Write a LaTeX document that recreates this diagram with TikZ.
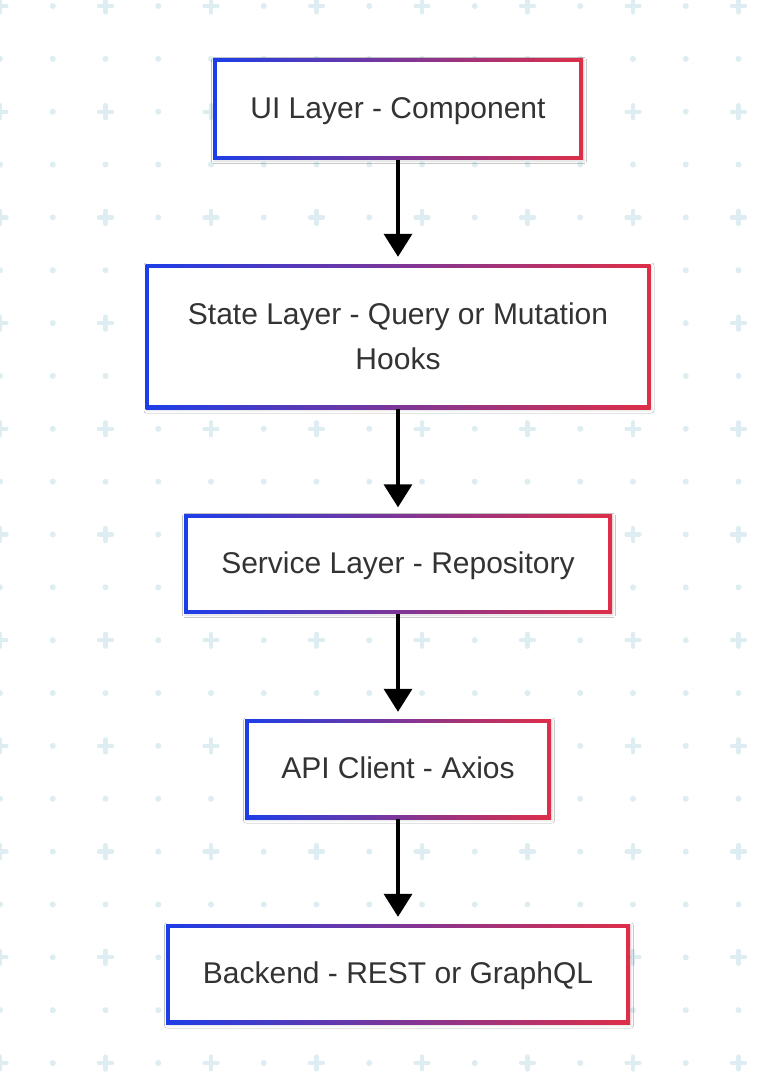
\documentclass[tikz,border=0pt]{standalone}
\usepackage{fontspec}
\setmainfont{Liberation Sans}
\usetikzlibrary{arrows.meta,shadows.blur}
\definecolor{bL}{RGB}{28,62,232}
\definecolor{bR}{RGB}{222,46,72}
\definecolor{pat}{RGB}{221,237,241}
\definecolor{txt}{RGB}{51,51,51}
\begin{document}
\begin{tikzpicture}[x=1pt,y=-1pt,
  box/.style={rectangle, inner sep=0pt, left color=bL, right color=bR, text=txt,
    font=\fontsize{30}{45}\selectfont, align=center,
    blur shadow={shadow blur steps=6, shadow xshift=1pt, shadow yshift=-1.5pt, shadow opacity=14, shadow blur radius=2.5pt},
    path picture={\fill[white] ([shift={(3.8pt,-3.8pt)}]path picture bounding box.north west) rectangle ([shift={(-3.8pt,3.8pt)}]path picture bounding box.south east);}},
  oneline/.style={text height=22pt, text depth=4pt},
  conn/.style={line width=3.6pt, -{Triangle[length=23pt,width=28pt]}, shorten >=7pt}
]
\useasboundingbox (0,0) rectangle (778,1076);
\fill[white] (0,0) rectangle (778,1076);
\foreach \k in {0,...,20}{
  \foreach \j in {0,...,14}{
    \pgfmathsetmacro\px{52.75*\j}
    \pgfmathsetmacro\py{6+52.85*\k}
    \pgfmathtruncatemacro\isplus{(isodd(\k)==0 && isodd(\j)==0) ? 1 : 0}
    \ifnum\isplus=1
      \draw[pat, line width=4.3pt, line cap=round] (\px-6.5,\py) -- (\px+6.5,\py) (\px,\py-6.5) -- (\px,\py+6.5);
    \else
      \fill[pat] (\px,\py) circle[radius=3];
    \fi
  }
}
\node[box, oneline, minimum width=370pt, minimum height=101pt] (ui) at (398,109) {UI Layer - Component};
\node[box, minimum width=505pt, minimum height=145pt] (state) at (398,336.5) {State Layer - Query or Mutation\\Hooks};
\node[box, oneline, minimum width=428pt, minimum height=99pt] (svc) at (398,564) {Service Layer - Repository};
\node[box, oneline, minimum width=306pt, minimum height=100pt] (api) at (398,769) {API Client - Axios};
\node[box, oneline, minimum width=464pt, minimum height=100pt] (be) at (398,974) {Backend - REST or GraphQL};
\draw[conn] (ui) -- (state);
\draw[conn] (state) -- (svc);
\draw[conn] (svc) -- (api);
\draw[conn] (api) -- (be);
\end{tikzpicture}
\end{document}
